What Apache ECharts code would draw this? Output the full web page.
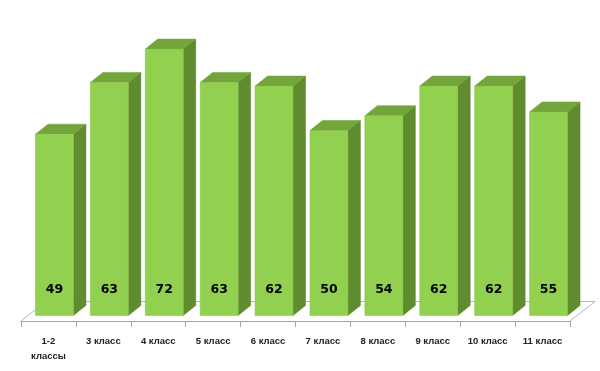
<!DOCTYPE html>
<html><head><meta charset="utf-8">
<script src="https://cdn.jsdelivr.net/npm/echarts@6/dist/echarts.min.js"></script>
<style>html,body{margin:0;padding:0;background:#fff}#c{width:600px;height:371px}</style>
</head><body><div id="c"></div>
<script>
var categories = ['1-2\nклассы','3 класс','4 класс','5 класс','6 класс','7 класс','8 класс','9 класс','10 класс','11 класс'];
var values = [49,63,72,63,62,50,54,62,62,55];

var chart = echarts.init(document.getElementById('c'));
var FLOOR_DX = 25, FLOOR_DY = -19.5;   // floor depth
var OFF_DX = 6, OFF_DY = -5.5;         // bar front-face offset into floor
var BAR_DX = 12.5, BAR_DY = -10;       // bar depth

function barItem(params, api) {
  var idx = api.value(0), v = api.value(1);
  var p0 = api.coord([idx, 0]);
  var p1 = api.coord([idx, v]);
  var band = api.size([1, 0])[0];
  var hw = band * 0.346;
  var xl = p0[0] - hw + OFF_DX, xr = p0[0] + hw + OFF_DX;
  var yb = p0[1] + OFF_DY, yt = p1[1] + OFF_DY;
  return {
    type: 'group',
    children: [
      { type: 'polygon', shape: { points: [[xr, yb], [xr + BAR_DX, yb + BAR_DY], [xr + BAR_DX, yt + BAR_DY], [xr, yt]] },
        style: { fill: '#5E8C2E', stroke: '#5A852C', lineWidth: 0.5 } },
      { type: 'polygon', shape: { points: [[xl, yt], [xr, yt], [xr + BAR_DX, yt + BAR_DY], [xl + BAR_DX, yt + BAR_DY]] },
        style: { fill: '#72A63B', stroke: '#6C9E37', lineWidth: 0.5 } },
      { type: 'rect', shape: { x: xl, y: yt, width: xr - xl, height: yb - yt },
        style: { fill: '#92D050', stroke: '#86C248', lineWidth: 0.5 } },
      { type: 'text', style: { text: String(v), x: (xl + xr) / 2, y: yb - 26, align: 'center', verticalAlign: 'middle',
        font: 'bold 12.5px "DejaVu Sans", Verdana, sans-serif', fill: '#000' } }
    ]
  };
}

function floorItem(params, api) {
  var cs = params.coordSys;
  var x0 = cs.x, x1 = cs.x + cs.width, y = cs.y + cs.height;
  var st = { stroke: '#B5B5B5', lineWidth: 1, fill: null };
  return {
    type: 'group',
    children: [
      { type: 'polyline', shape: { points: [[x0, y], [x0 + FLOOR_DX, y + FLOOR_DY], [x1 + FLOOR_DX, y + FLOOR_DY], [x1, y]] }, style: st }
    ]
  };
}

chart.setOption({
  animation: false,
  grid: { left: 21, right: 30, top: 25, bottom: 50 },
  xAxis: {
    type: 'category', data: categories,
    axisLine: { lineStyle: { color: '#A6A6A6', width: 1 } },
    axisTick: { show: true, length: 6, alignWithLabel: false, lineStyle: { color: '#A6A6A6' } },
    axisLabel: { interval: 0, margin: 13, fontSize: 9.5, fontWeight: 'bold', color: '#222',
      fontFamily: '"Liberation Sans", Arial, sans-serif', lineHeight: 15 }
  },
  yAxis: { type: 'value', min: 0, max: 80, show: false, splitLine: { show: false } },
  series: [
    { type: 'custom', z: 1, renderItem: floorItem, data: [[0, 0]], silent: true },
    { type: 'custom', z: 2, renderItem: barItem,
      data: values.map(function (v, i) { return [i, v]; }) }
  ]
});
</script></body></html>
